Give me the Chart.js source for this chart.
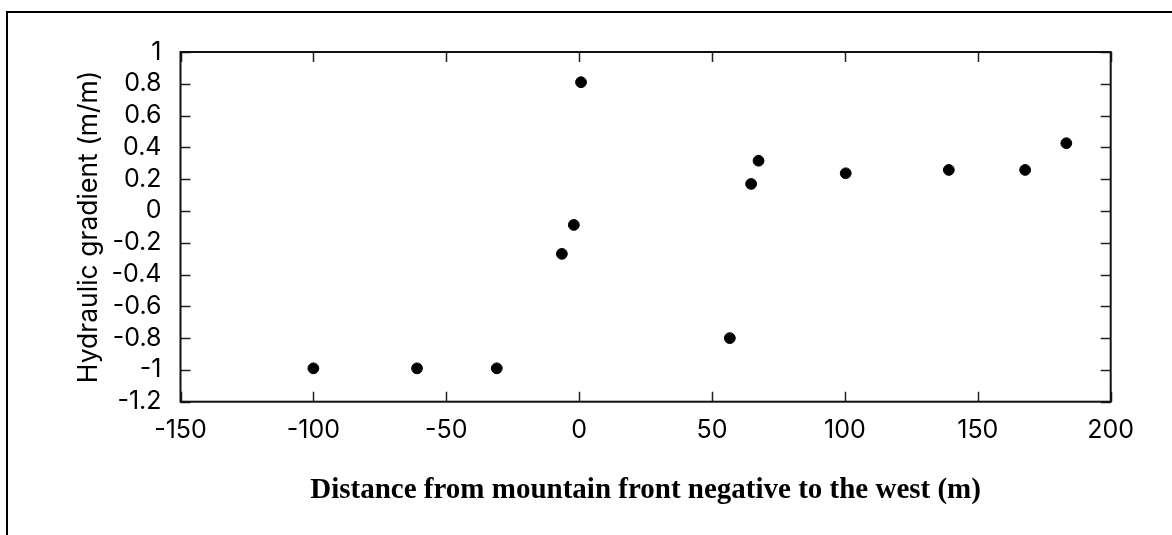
<!DOCTYPE html>
<html>
<head>
<meta charset="utf-8">
<script src="https://cdn.jsdelivr.net/npm/chart.js@4/dist/chart.umd.min.js"></script>
<style>
  html, body { margin: 0; padding: 0; background: #fff; overflow: hidden; }
  #frame { position: absolute; left: 6px; top: 11px; width: 1164px; height: 600px;
           border-left: 2px solid #000; border-top: 2px solid #000; border-right: 1px solid #d4d4d4; }
  #c { position: absolute; left: 0; top: 0; }
</style>
</head>
<body>
<div id="frame"></div>
<canvas id="c" width="1172" height="535"></canvas>
<script>
// Distance from mountain front (m), negative to the west
const distances = [-100, -61, -31, -6.5, -2, 0.7, 56.7, 64.7, 67.5, 100.3, 139.1, 167.8, 183.3];
// Hydraulic gradient (m/m)
const gradients = [-0.99, -0.99, -0.99, -0.27, -0.088, 0.81, -0.80, 0.17, 0.316, 0.237, 0.258, 0.258, 0.426];

const xTitle = 'Distance from mountain front negative to the west (m)';
const yTitle = 'Hydraulic gradient (m/m)';
const xMin = -150, xMax = 200, xStep = 50;
const yMin = -1.2, yMax = 1, yStep = 0.2;

const points = distances.map((x, i) => ({ x: x, y: gradients[i] }));

const frameTicks = {
  id: 'frameTicks',
  afterDatasetsDraw(chart) {
    const { ctx, chartArea: a, scales } = chart;
    const len = 10;
    ctx.save();
    ctx.strokeStyle = '#222';
    ctx.lineWidth = 1.5;
    ctx.beginPath();
    scales.x.ticks.forEach(t => {
      const px = Math.round(scales.x.getPixelForValue(t.value)) + 0.5;
      ctx.moveTo(px, a.bottom); ctx.lineTo(px, a.bottom - len);
      ctx.moveTo(px, a.top); ctx.lineTo(px, a.top + len);
    });
    scales.y.ticks.forEach(t => {
      const py = Math.round(scales.y.getPixelForValue(t.value)) + 0.5;
      ctx.moveTo(a.left, py); ctx.lineTo(a.left + len, py);
      ctx.moveTo(a.right, py); ctx.lineTo(a.right - len, py);
    });
    ctx.stroke();
    ctx.strokeStyle = '#111';
    ctx.lineWidth = 2;
    ctx.strokeRect(a.left, a.top, a.right - a.left, a.bottom - a.top);
    ctx.restore();
  }
};

new Chart(document.getElementById('c'), {
  type: 'scatter',
  data: {
    datasets: [{
      data: points,
      backgroundColor: '#000',
      borderColor: '#000',
      pointRadius: 5.4,
      pointHoverRadius: 5.4
    }]
  },
  options: {
    responsive: false,
    animation: false,
    events: [],
    layout: { padding: { left: 0, top: 52, right: 61.3, bottom: 0 } },
    plugins: { legend: { display: false }, tooltip: { enabled: false } },
    scales: {
      x: {
        type: 'linear',
        min: xMin, max: xMax,
        afterFit(s) { s.height = 133.3; },
        grid: { display: false, drawTicks: false },
        border: { display: false },
        ticks: {
          stepSize: xStep,
          autoSkip: false,
          padding: 14,
          color: '#000',
          font: { family: 'Inter', size: 25 },
          maxRotation: 0,
          callback: v => String(v)
        },
        title: {
          display: true,
          text: xTitle,
          color: '#000',
          font: { family: 'Liberation Serif', size: 29, weight: 'bold' },
          padding: { top: 0, bottom: 27 }
        }
      },
      y: {
        type: 'linear',
        min: yMin, max: yMax,
        afterFit(s) { s.width = 180.5; },
        grid: { display: false, drawTicks: false },
        border: { display: false },
        ticks: {
          stepSize: yStep,
          autoSkip: false,
          padding: 19,
          color: '#000',
          font: { family: 'Inter', size: 25 },
          callback: v => String(Math.round(v * 10) / 10)
        },
        title: {
          display: true,
          text: yTitle,
          color: '#000',
          font: { family: 'Inter', size: 26.5 },
          padding: { top: 73, bottom: 0 }
        }
      }
    }
  },
  plugins: [frameTicks]
});
</script>
</body>
</html>
